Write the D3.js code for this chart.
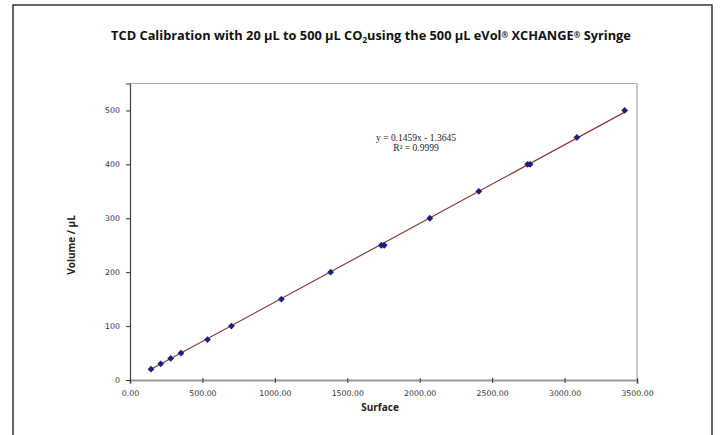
<!DOCTYPE html>
<html>
<head>
<meta charset="utf-8">
<script src="https://cdn.jsdelivr.net/npm/d3@7"></script>
<style>
  body { margin: 0; background: #fff; }
</style>
</head>
<body>
<div id="main"></div>
<script>
// calibration points
var surface = [145, 212, 281, 352, 535, 700, 1045, 1385, 1735, 1755, 2070, 2408, 2745, 2762, 3085, 3415];
var volume  = [20, 30, 40, 50, 75, 100, 150, 200, 250, 250, 300, 350, 400, 400, 450, 500];
var xTicks = [0, 500, 1000, 1500, 2000, 2500, 3000, 3500];
var yTicks = [0, 100, 200, 300, 400, 500];
var slope = 0.1459, intercept = -1.3645;

var W = 720, H = 435;
var margin = {top: 83.5, right: 83, bottom: 55, left: 130};
var width = W - margin.left - margin.right,
    height = H - margin.top - margin.bottom;

var svg = d3.select("#main").append("svg")
    .attr("width", W)
    .attr("height", H);

// outer frame
svg.append("rect")
    .attr("x", 13).attr("y", 5)
    .attr("width", 699).attr("height", 440)
    .attr("fill", "none")
    .attr("stroke", "#333")
    .attr("stroke-width", 1.5);

// title with subscript and small registered marks
var title = svg.append("text")
    .attr("x", 371).attr("y", 40)
    .attr("text-anchor", "middle")
    .style("font-family", "'Open Sans', 'Noto Sans', sans-serif")
    .style("font-weight", "bold")
    .style("font-size", "12.8px")
    .attr("fill", "#111");
title.append("tspan").text("TCD Calibration with 20 µL to 500 µL CO");
title.append("tspan").attr("dy", 3).style("font-size", "8px").text("2");
title.append("tspan").attr("dy", -3).text("using the 500 µL eVol");
title.append("tspan").attr("dy", -2).style("font-size", "8px").text("®");
title.append("tspan").attr("dy", 2).text(" XCHANGE");
title.append("tspan").attr("dy", -2).style("font-size", "8px").text("®");
title.append("tspan").attr("dy", 2).text(" Syringe");

var g = svg.append("g")
    .attr("transform", "translate(" + margin.left + "," + margin.top + ")");

var x = d3.scaleLinear().domain([0, 3500]).range([0, width]);
var y = d3.scaleLinear().domain([0, 550]).range([height, 0]);

// plot area border (top/right)
g.append("path")
    .attr("d", "M0,0H" + width + "V" + height)
    .attr("fill", "none")
    .attr("stroke", "#aaa")
    .attr("stroke-width", 1.2);

// x axis
var xAxis = g.append("g")
    .attr("transform", "translate(0," + height + ")")
    .call(d3.axisBottom(x).tickValues(xTicks).tickSize(4).tickPadding(6)
        .tickFormat(function(d) { return d3.format(".2f")(d); }));
xAxis.select(".domain").attr("stroke", "#999").attr("stroke-width", 2);
xAxis.selectAll(".tick line").attr("stroke", "#333").attr("y1", -2).attr("y2", 3);

// y axis
var yAxis = g.append("g")
    .call(d3.axisLeft(y).tickValues(yTicks).tickSize(4).tickPadding(6));
yAxis.select(".domain").attr("stroke", "#444").attr("stroke-width", 1.2);
yAxis.selectAll(".tick line").attr("stroke", "#333");

g.selectAll(".tick text")
    .style("font-family", "'DejaVu Sans', Tahoma, sans-serif")
    .style("font-size", "7.8px")
    .attr("fill", "#333");

// axis titles
svg.append("text")
    .attr("x", 380).attr("y", 411)
    .attr("text-anchor", "middle")
    .style("font-family", "'Open Sans', 'Noto Sans', sans-serif")
    .style("font-weight", "bold")
    .style("font-size", "10px")
    .attr("fill", "#222")
    .text("Surface");

svg.append("text")
    .attr("transform", "translate(75,245)rotate(-90)")
    .attr("text-anchor", "middle")
    .style("font-family", "'Open Sans', 'Noto Sans', sans-serif")
    .style("font-weight", "bold")
    .style("font-size", "10px")
    .attr("fill", "#222")
    .text("Volume / µL");

// linear trendline over the data range
var xMin = d3.min(surface), xMax = d3.max(surface);
g.append("line")
    .attr("x1", x(xMin)).attr("y1", y(slope * xMin + intercept))
    .attr("x2", x(xMax)).attr("y2", y(slope * xMax + intercept))
    .attr("stroke", "#8b3a3a")
    .attr("stroke-width", 1.2);

// markers (square diamonds like Excel)
var pts = surface.map(function(s, i) { return {s: s, v: volume[i]}; });
var r = 3.4;
g.selectAll(".pt")
    .data(pts)
    .enter().append("path")
    .attr("class", "pt")
    .attr("d", "M0," + (-r) + "L" + r + ",0L0," + r + "L" + (-r) + ",0Z")
    .attr("transform", function(d) { return "translate(" + x(d.s) + "," + y(d.v) + ")"; })
    .attr("fill", "#1f1f7a");

// equation label
var eq = svg.append("text")
    .attr("text-anchor", "middle")
    .style("font-family", "'Liberation Serif', 'DejaVu Serif', serif")
    .style("font-size", "9.5px")
    .attr("fill", "#222");
eq.append("tspan").attr("x", 416).attr("y", 141).text("y = 0.1459x - 1.3645");
eq.append("tspan").attr("x", 416).attr("y", 151).text("R² = 0.9999");
</script>
</body>
</html>
